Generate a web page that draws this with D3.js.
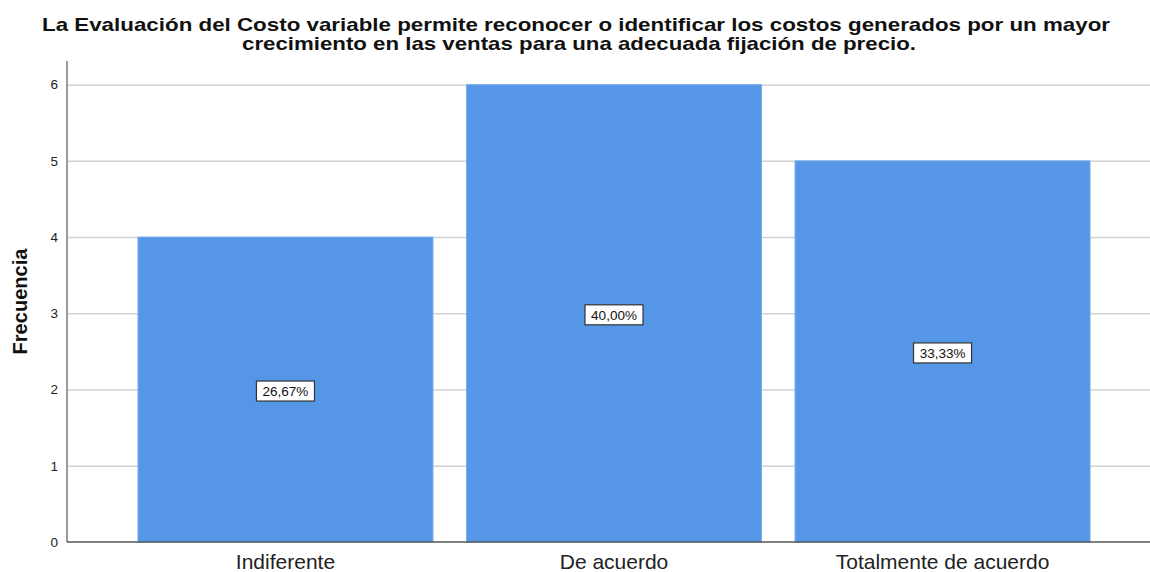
<!DOCTYPE html>
<html>
<head>
<meta charset="utf-8">
<script src="https://cdn.jsdelivr.net/npm/d3@7"></script>
<style>
  html, body { margin: 0; padding: 0; background: #fff; }
  svg { display: block; font-family: "Liberation Sans", Arial, sans-serif; }
</style>
</head>
<body>
<svg id="chart" width="1150" height="572"></svg>
<script>
// Response categories and their counts
const categories = ["Indiferente", "De acuerdo", "Totalmente de acuerdo"];
const counts = [4, 6, 5];
const percentLabels = ["26,67%", "40,00%", "33,33%"];
const yTicks = [0, 1, 2, 3, 4, 5, 6];
const titleLines = [
  "La Evaluación del Costo variable permite reconocer o identificar los costos generados por un mayor",
  "crecimiento en las ventas para una adecuada fijación de precio."
];
const titleWidths = [1068, 674];

const svg = d3.select("#chart");
const W = 1150, H = 572;
const plot = { left: 67, right: 1161, top: 61, bottom: 542 };

const x = d3.scaleBand()
  .domain(categories)
  .range([plot.left, plot.right])
  .paddingInner(0.102)
  .paddingOuter(0.216);

const y = d3.scaleLinear()
  .domain([0, 6.31])
  .range([plot.bottom, plot.top]);

// Title (two centred lines, wide bold face)
svg.append("g").selectAll("text")
  .data(titleLines)
  .join("text")
  .attr("x", (d, i) => i === 0 ? 576 : 579)
  .attr("y", (d, i) => 31 + i * 19)
  .attr("text-anchor", "middle")
  .attr("font-size", 18.5)
  .attr("font-weight", "bold")
  .attr("fill", "#111")
  .attr("textLength", (d, i) => titleWidths[i])
  .attr("lengthAdjust", "spacingAndGlyphs")
  .text(d => d);

// Horizontal gridlines
svg.append("g").selectAll("line")
  .data(yTicks.filter(t => t > 0))
  .join("line")
  .attr("x1", plot.left)
  .attr("x2", W)
  .attr("y1", d => y(d) + 0.5)
  .attr("y2", d => y(d) + 0.5)
  .attr("stroke", "#d2d2d2")
  .attr("stroke-width", 1.5);

// Bars
svg.append("g").selectAll("rect")
  .data(counts)
  .join("rect")
  .attr("x", (d, i) => x(categories[i]))
  .attr("y", d => y(d))
  .attr("width", x.bandwidth())
  .attr("height", d => y(0) - y(d))
  .attr("fill", "#5596e6")
  .attr("stroke", "#7aaeec")
  .attr("stroke-width", 1);

// Y axis
const yAxis = svg.append("g")
  .attr("transform", `translate(${plot.left},0)`)
  .call(d3.axisLeft(y).tickValues(yTicks).tickSize(0).tickPadding(9).tickFormat(d3.format("d")));
yAxis.select(".domain").attr("stroke", "#999").attr("stroke-width", 2)
  .attr("d", `M0,${plot.top}V${plot.bottom}`);
yAxis.selectAll("text").attr("font-size", 13.5).attr("fill", "#222")
  .attr("font-family", "'Liberation Sans', Arial, sans-serif");

// X axis
const xAxis = svg.append("g")
  .attr("transform", `translate(0,${plot.bottom})`)
  .call(d3.axisBottom(x).tickSize(0).tickPadding(12));
xAxis.select(".domain").attr("stroke", "#555").attr("stroke-width", 1.5)
  .attr("d", `M${plot.left},0H${W}`);
xAxis.selectAll("text").attr("font-size", 21).attr("fill", "#222")
  .attr("font-family", "'Liberation Sans', Arial, sans-serif");

// Y axis title
svg.append("text")
  .attr("transform", `translate(27,${(plot.top + plot.bottom) / 2}) rotate(-90)`)
  .attr("text-anchor", "middle")
  .attr("font-size", 20)
  .attr("font-weight", "bold")
  .attr("fill", "#111")
  .attr("textLength", 106)
  .attr("lengthAdjust", "spacingAndGlyphs")
  .text("Frecuencia");

// Percentage labels in boxes, centred at half bar height
const labels = svg.append("g").selectAll("g")
  .data(counts)
  .join("g")
  .attr("transform", (d, i) => `translate(${x(categories[i]) + x.bandwidth() / 2},${y(d / 2) + 1.5})`);
labels.append("rect")
  .attr("x", -29).attr("y", -10)
  .attr("width", 58).attr("height", 20)
  .attr("fill", "#fff")
  .attr("stroke", "#333")
  .attr("stroke-width", 1.2);
labels.append("text")
  .attr("text-anchor", "middle")
  .attr("dy", "0.36em")
  .attr("font-size", 13.5)
  .attr("fill", "#111")
  .text((d, i) => percentLabels[i]);
</script>
</body>
</html>
